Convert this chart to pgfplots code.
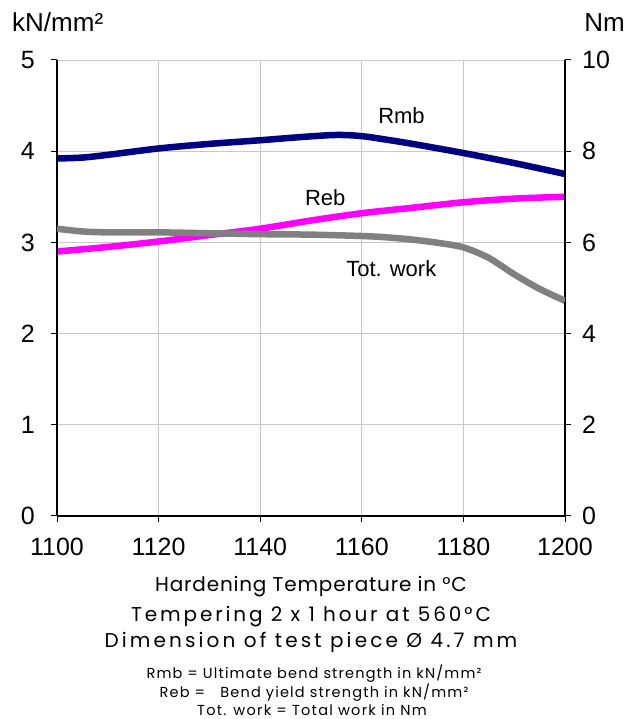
\documentclass[border=0pt]{standalone}
\usepackage{fontspec}
\setmainfont{Liberation Sans}
\newfontfamily\popA[LetterSpace=4.1]{Poppins}
\newfontfamily\popB[LetterSpace=14.5]{Poppins}
\newfontfamily\popC[LetterSpace=15.6]{Poppins}
\newfontfamily\popS[LetterSpace=7.9]{Poppins}
\newfontfamily\popT[LetterSpace=8.2]{Poppins}
\newfontfamily\popU[LetterSpace=8.8]{Poppins}
\usepackage{pgfplots}
\pgfplotsset{compat=1.18}
\definecolor{rmb}{RGB}{0,0,128}
\definecolor{reb}{RGB}{255,0,255}
\definecolor{tot}{RGB}{128,128,128}
\definecolor{gridc}{RGB}{200,200,200}
\begin{document}
\begin{tikzpicture}
\path[use as bounding box] (-57pt,-203pt) rectangle (573pt,516pt);
\pgfplotsset{
  common/.style={
    width=508pt, height=456pt, scale only axis,
    xmin=1100, xmax=1200,
    tick align=outside, major tick length=6pt,
    tick style={black, line width=1pt},
    axis line style={black, line width=1.3pt, -},
    ticklabel style={font=\fontsize{25}{25}\selectfont, inner sep=0pt},
    /pgf/number format/assume math mode=true,
    /pgf/number format/1000 sep={},
  }
}
\begin{axis}[common,
  at={(0,0)}, anchor=south west,
  ymin=0, ymax=5,
  axis x line*=bottom, axis y line*=left,
  xtick={1100,1120,...,1200}, ytick={0,1,...,5},
  grid=major, grid style={gridc, line width=0.8pt},
  yticklabel style={anchor=east, xshift=-16pt},
  xticklabel style={anchor=north, yshift=-16pt},
]
\addplot[rmb, line width=6.5pt, smooth] coordinates {
(1100,3.92) (1105,3.93) (1110,3.96) (1120,4.03) (1130,4.08) (1140,4.12)
(1148,4.155) (1155,4.178) (1160,4.165) (1165,4.125) (1170,4.08) (1180,3.98) (1190,3.87) (1200,3.75)};
\addplot[reb, line width=6.5pt, smooth] coordinates {
(1100,2.90) (1110,2.95) (1120,3.01) (1130,3.08) (1140,3.15) (1150,3.24)
(1160,3.32) (1170,3.38) (1180,3.44) (1190,3.48) (1200,3.50)};
\node[anchor=base west, font=\fontsize{22}{22}\selectfont, inner sep=0pt] at (axis cs:1163.2,4.30) {Rmb};
\node[anchor=base west, font=\fontsize{22}{22}\selectfont, inner sep=0pt] at (axis cs:1148.8,3.40) {Reb};
\node[anchor=base west, font=\fontsize{22}{22}\selectfont, inner sep=0pt] at (axis cs:1156.9,2.63) {Tot. work};
\end{axis}
\begin{axis}[common,
  at={(0,0)}, anchor=south west,
  ymin=0, ymax=10,
  hide x axis,
  ytick pos=right, yticklabel pos=right,
  ytick={0,2,...,10},
  yticklabel style={anchor=west, xshift=11pt},
]
\addplot[tot, line width=6.5pt, smooth] coordinates {
(1100,6.30) (1105,6.24) (1110,6.22) (1120,6.22) (1130,6.20) (1140,6.18)
(1150,6.17) (1160,6.14) (1165,6.11) (1170,6.06) (1175,5.99) (1180,5.89) (1185,5.66) (1190,5.30) (1195,4.98) (1200,4.72)};
\end{axis}
\node[anchor=base west, inner sep=0pt, font=\fontsize{26}{26}\selectfont] at (-45pt,484pt) {kN/mm²};
\node[anchor=base east, inner sep=0pt, font=\fontsize{26}{26}\selectfont] at (568pt,484pt) {Nm};
\begin{scope}[every node/.style={anchor=base, inner sep=0pt}]
\node[font=\popA\fontsize{20}{20}\selectfont] at (254pt,-76pt) {Hardening Temperature in °C};
\node[font=\popB\fontsize{20}{20}\selectfont] at (254pt,-105pt) {Tempering 2 x 1 hour at 560°C};
\node[font=\popC\fontsize{20}{20}\selectfont] at (254pt,-131pt) {Dimension of test piece Ø 4.7 mm};
\node[font=\popS\fontsize{14.5}{14.5}\selectfont] at (257pt,-162pt) {Rmb = Ultimate bend strength in kN/mm²};
\node[font=\popT\fontsize{14.5}{14.5}\selectfont] at (257pt,-181pt) {Reb = \ \ Bend yield strength in kN/mm²};
\node[font=\popU\fontsize{14.5}{14.5}\selectfont] at (255pt,-199pt) {Tot. work = Total work in Nm};
\end{scope}
\end{tikzpicture}
\end{document}
